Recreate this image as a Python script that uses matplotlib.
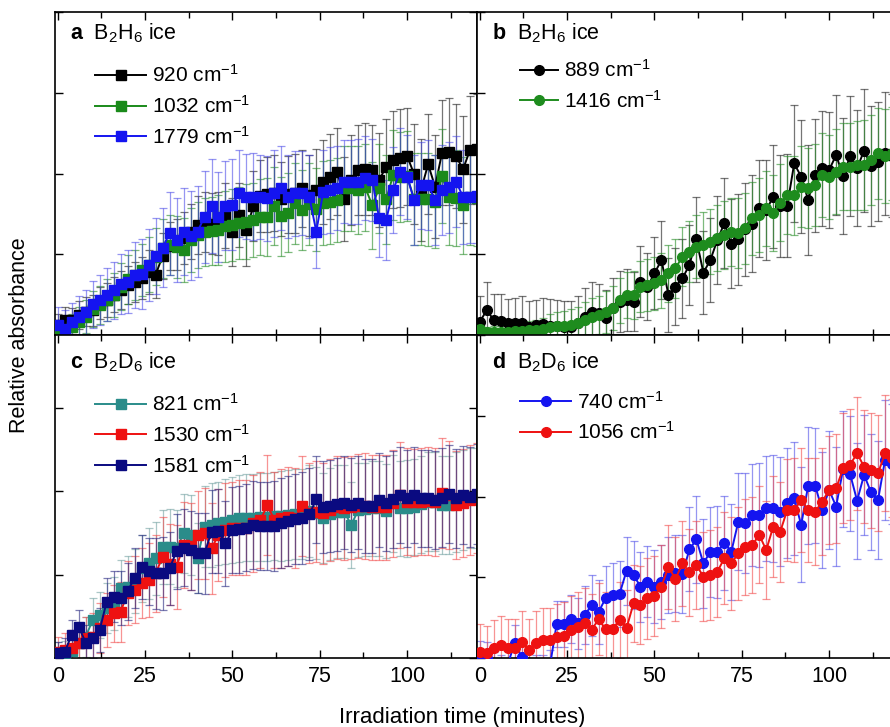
import matplotlib as mpl
import matplotlib.pyplot as plt
from matplotlib.ticker import MultipleLocator, NullFormatter

# Irradiation time grid (minutes)
time_min = list(range(0, 121, 2))

# Panel a: B2H6 ice (squares)
a_920 = [0.030, 0.046, 0.046, 0.062, 0.072, 0.077, 0.098, 0.108, 0.125, 0.140,
         0.155, 0.165, 0.178, 0.196, 0.186, 0.245, 0.275, 0.280, 0.300, 0.320,
         0.340, 0.350, 0.345, 0.345, 0.370, 0.320, 0.372, 0.325, 0.400, 0.430,
         0.435, 0.439, 0.421, 0.435, 0.439, 0.454, 0.433, 0.449, 0.475, 0.490,
         0.506, 0.420, 0.480, 0.511, 0.513, 0.511, 0.480, 0.521, 0.542, 0.549,
         0.554, 0.498, 0.449, 0.529, 0.459, 0.565, 0.568, 0.554, 0.513, 0.573,
         0.575]
a_920_err = [0.035, 0.040, 0.038, 0.042, 0.045, 0.048, 0.050, 0.052, 0.055, 0.058,
             0.060, 0.062, 0.065, 0.068, 0.070, 0.072, 0.075, 0.078, 0.080, 0.085,
             0.090, 0.092, 0.095, 0.098, 0.100, 0.105, 0.100, 0.110, 0.108, 0.112,
             0.115, 0.118, 0.115, 0.120, 0.122, 0.120, 0.125, 0.128, 0.130, 0.132,
             0.135, 0.130, 0.138, 0.140, 0.142, 0.140, 0.145, 0.148, 0.150, 0.152,
             0.150, 0.155, 0.158, 0.155, 0.160, 0.162, 0.165, 0.160, 0.165, 0.168,
             0.170]
a_1032 = [0.005, 0.015, 0.026, 0.041, 0.057, 0.080, 0.093, 0.108, 0.124, 0.150,
          0.172, 0.186, 0.201, 0.217, 0.243, 0.268, 0.279, 0.273, 0.263, 0.294,
          0.310, 0.320, 0.322, 0.325, 0.336, 0.341, 0.346, 0.351, 0.356, 0.366,
          0.366, 0.400, 0.368, 0.379, 0.408, 0.387, 0.406, 0.389, 0.408, 0.413,
          0.418, 0.454, 0.454, 0.449, 0.457, 0.402, 0.454, 0.420, 0.495, 0.490,
          0.492, 0.420, 0.420, 0.420, 0.413, 0.492, 0.428, 0.425, 0.402, 0.428,
          0.425]
a_1032_err = [0.030, 0.035, 0.040, 0.045, 0.050, 0.055, 0.060, 0.065, 0.068, 0.072,
              0.075, 0.078, 0.080, 0.085, 0.088, 0.090, 0.092, 0.095, 0.098, 0.100,
              0.102, 0.105, 0.105, 0.108, 0.110, 0.112, 0.112, 0.115, 0.115, 0.118,
              0.120, 0.120, 0.122, 0.122, 0.125, 0.125, 0.128, 0.128, 0.130, 0.130,
              0.130, 0.132, 0.132, 0.135, 0.135, 0.135, 0.138, 0.138, 0.140, 0.140,
              0.140, 0.142, 0.142, 0.145, 0.145, 0.145, 0.148, 0.148, 0.150, 0.150,
              0.150]
a_1779 = [0.031, 0.020, 0.040, 0.057, 0.070, 0.095, 0.108, 0.124, 0.139, 0.158,
          0.165, 0.186, 0.190, 0.217, 0.245, 0.270, 0.315, 0.294, 0.320, 0.307,
          0.320, 0.366, 0.399, 0.366, 0.400, 0.404, 0.439, 0.428, 0.428, 0.428,
          0.423, 0.439, 0.454, 0.428, 0.439, 0.439, 0.428, 0.320, 0.444, 0.449,
          0.454, 0.475, 0.475, 0.475, 0.485, 0.480, 0.361, 0.356, 0.449, 0.506,
          0.490, 0.418, 0.464, 0.464, 0.418, 0.449, 0.457, 0.475, 0.428, 0.428,
          0.430]
a_1779_err = [0.055, 0.058, 0.060, 0.065, 0.068, 0.072, 0.078, 0.082, 0.088, 0.092,
              0.098, 0.102, 0.108, 0.112, 0.118, 0.122, 0.128, 0.130, 0.135, 0.138,
              0.140, 0.142, 0.145, 0.140, 0.138, 0.140, 0.135, 0.132, 0.135, 0.130,
              0.132, 0.135, 0.130, 0.128, 0.132, 0.130, 0.128, 0.112, 0.130, 0.132,
              0.130, 0.128, 0.130, 0.132, 0.130, 0.128, 0.120, 0.125, 0.132, 0.135,
              0.130, 0.138, 0.135, 0.140, 0.138, 0.140, 0.142, 0.140, 0.145, 0.142,
              0.145]

# Panel b: B2H6 ice (circles)
b_889 = [0.041, 0.077, 0.046, 0.044, 0.036, 0.036, 0.038, 0.024, 0.031, 0.034,
         0.028, 0.028, 0.026, 0.026, 0.036, 0.057, 0.072, 0.067, 0.052, 0.083,
         0.103, 0.108, 0.103, 0.165, 0.150, 0.191, 0.232, 0.124, 0.150, 0.175,
         0.217, 0.296, 0.193, 0.232, 0.294, 0.346, 0.282, 0.296, 0.327, 0.344,
         0.392, 0.387, 0.428, 0.400, 0.400, 0.531, 0.490, 0.418, 0.495, 0.516,
         0.511, 0.557, 0.492, 0.554, 0.516, 0.571, 0.524, 0.537, 0.562, 0.555,
         0.565]
b_889_err = [0.080, 0.088, 0.080, 0.082, 0.075, 0.080, 0.082, 0.080, 0.078, 0.080,
             0.082, 0.080, 0.078, 0.080, 0.085, 0.090, 0.092, 0.090, 0.088, 0.092,
             0.095, 0.095, 0.092, 0.110, 0.105, 0.112, 0.120, 0.115, 0.118, 0.122,
             0.125, 0.132, 0.128, 0.130, 0.135, 0.140, 0.138, 0.140, 0.145, 0.150,
             0.150, 0.155, 0.160, 0.158, 0.160, 0.180, 0.175, 0.170, 0.175, 0.178,
             0.180, 0.185, 0.180, 0.185, 0.180, 0.190, 0.185, 0.185, 0.190, 0.190,
             0.190]
b_1416 = [0.018, 0.010, 0.010, 0.010, 0.010, 0.012, 0.012, 0.015, 0.015, 0.018,
          0.026, 0.028, 0.028, 0.031, 0.036, 0.046, 0.057, 0.062, 0.072, 0.083,
          0.108, 0.124, 0.124, 0.150, 0.155, 0.160, 0.170, 0.191, 0.206, 0.243,
          0.258, 0.273, 0.280, 0.289, 0.299, 0.310, 0.320, 0.315, 0.330, 0.361,
          0.372, 0.392, 0.377, 0.410, 0.433, 0.433, 0.459, 0.455, 0.464, 0.495,
          0.490, 0.506, 0.521, 0.521, 0.526, 0.526, 0.542, 0.562, 0.554, 0.562,
          0.565]
b_1416_err = [0.015, 0.015, 0.018, 0.018, 0.020, 0.022, 0.025, 0.028, 0.030, 0.035,
              0.040, 0.042, 0.045, 0.048, 0.050, 0.055, 0.058, 0.060, 0.065, 0.068,
              0.070, 0.072, 0.075, 0.078, 0.080, 0.082, 0.085, 0.088, 0.090, 0.092,
              0.095, 0.098, 0.100, 0.100, 0.102, 0.105, 0.105, 0.108, 0.110, 0.112,
              0.115, 0.115, 0.118, 0.120, 0.120, 0.122, 0.125, 0.125, 0.128, 0.130,
              0.130, 0.132, 0.135, 0.135, 0.138, 0.140, 0.140, 0.142, 0.145, 0.145,
              0.148]

# Panel c: B2D6 ice (squares)
c_821 = [0.009, 0.005, 0.020, 0.046, 0.064, 0.114, 0.129, 0.150, 0.164, 0.209,
         0.214, 0.230, 0.268, 0.283, 0.298, 0.333, 0.333, 0.328, 0.373, 0.368,
         0.300, 0.393, 0.398, 0.403, 0.408, 0.413, 0.418, 0.420, 0.420, 0.423,
         0.423, 0.425, 0.425, 0.428, 0.430, 0.430, 0.440, 0.435, 0.420, 0.430,
         0.438, 0.438, 0.398, 0.443, 0.445, 0.448, 0.448, 0.440, 0.463, 0.448,
         0.448, 0.452, 0.460, 0.468, 0.468, 0.458, 0.458, 0.468, 0.473, 0.478,
         0.480]
c_821_err = [0.040, 0.045, 0.050, 0.055, 0.060, 0.065, 0.070, 0.075, 0.080, 0.085,
             0.090, 0.095, 0.100, 0.105, 0.108, 0.110, 0.112, 0.115, 0.118, 0.120,
             0.105, 0.122, 0.125, 0.125, 0.128, 0.128, 0.130, 0.130, 0.130, 0.132,
             0.132, 0.132, 0.135, 0.135, 0.135, 0.135, 0.138, 0.138, 0.135, 0.138,
             0.140, 0.140, 0.130, 0.140, 0.140, 0.142, 0.142, 0.142, 0.145, 0.142,
             0.145, 0.145, 0.145, 0.148, 0.148, 0.148, 0.148, 0.150, 0.150, 0.150,
             0.150]
c_1530 = [0.019, 0.024, 0.029, 0.045, 0.059, 0.064, 0.090, 0.114, 0.134, 0.139,
          0.194, 0.204, 0.224, 0.234, 0.253, 0.303, 0.280, 0.273, 0.338, 0.335,
          0.368, 0.373, 0.328, 0.368, 0.383, 0.388, 0.390, 0.390, 0.403, 0.413,
          0.458, 0.413, 0.418, 0.423, 0.420, 0.455, 0.433, 0.438, 0.433, 0.443,
          0.451, 0.448, 0.451, 0.455, 0.455, 0.451, 0.451, 0.451, 0.463, 0.488,
          0.468, 0.466, 0.468, 0.470, 0.468, 0.493, 0.488, 0.458, 0.463, 0.473,
          0.478]
c_1530_err = [0.045, 0.050, 0.055, 0.060, 0.065, 0.070, 0.075, 0.080, 0.085, 0.090,
              0.095, 0.100, 0.105, 0.110, 0.115, 0.120, 0.122, 0.125, 0.128, 0.130,
              0.132, 0.135, 0.135, 0.138, 0.140, 0.140, 0.142, 0.142, 0.145, 0.145,
              0.150, 0.145, 0.148, 0.148, 0.150, 0.150, 0.150, 0.152, 0.152, 0.152,
              0.155, 0.155, 0.155, 0.155, 0.158, 0.158, 0.158, 0.158, 0.160, 0.160,
              0.160, 0.160, 0.160, 0.162, 0.162, 0.165, 0.162, 0.162, 0.162, 0.165,
              0.165]
c_1581 = [0.014, 0.019, 0.069, 0.094, 0.045, 0.060, 0.084, 0.169, 0.184, 0.180,
          0.200, 0.240, 0.273, 0.260, 0.253, 0.253, 0.268, 0.320, 0.330, 0.323,
          0.315, 0.313, 0.378, 0.380, 0.343, 0.383, 0.385, 0.390, 0.398, 0.395,
          0.395, 0.395, 0.405, 0.410, 0.415, 0.420, 0.430, 0.475, 0.452, 0.455,
          0.460, 0.465, 0.458, 0.465, 0.455, 0.455, 0.473, 0.463, 0.475, 0.488,
          0.478, 0.488, 0.478, 0.478, 0.473, 0.480, 0.491, 0.478, 0.488, 0.483,
          0.490]
c_1581_err = [0.035, 0.040, 0.045, 0.050, 0.055, 0.060, 0.065, 0.070, 0.075, 0.080,
              0.085, 0.090, 0.095, 0.100, 0.105, 0.108, 0.110, 0.112, 0.115, 0.118,
              0.120, 0.122, 0.125, 0.125, 0.128, 0.128, 0.130, 0.130, 0.132, 0.132,
              0.132, 0.135, 0.135, 0.135, 0.135, 0.138, 0.138, 0.130, 0.138, 0.138,
              0.140, 0.140, 0.140, 0.140, 0.142, 0.142, 0.142, 0.142, 0.145, 0.145,
              0.145, 0.145, 0.145, 0.145, 0.148, 0.148, 0.148, 0.148, 0.148, 0.150,
              0.150]

# Panel d: B2D6 ice (circles)
d_740 = [0.004, 0.000, -0.030, -0.040, -0.020, 0.047, 0.004, -0.030, -0.040, -0.040,
         -0.030, 0.105, 0.105, 0.120, 0.107, 0.133, 0.163, 0.142, 0.185, 0.195,
         0.198, 0.270, 0.257, 0.221, 0.236, 0.221, 0.236, 0.257, 0.262, 0.260,
         0.336, 0.367, 0.293, 0.329, 0.329, 0.357, 0.329, 0.422, 0.419, 0.443,
         0.443, 0.463, 0.463, 0.453, 0.479, 0.494, 0.412, 0.534, 0.534, 0.458,
         0.520, 0.469, 0.585, 0.570, 0.487, 0.567, 0.513, 0.489, 0.613, 0.600,
         0.610]
d_740_err = [0.050, 0.050, 0.050, 0.050, 0.050, 0.055, 0.050, 0.050, 0.050, 0.050,
             0.055, 0.070, 0.072, 0.075, 0.080, 0.090, 0.095, 0.098, 0.100, 0.100,
             0.102, 0.105, 0.105, 0.108, 0.110, 0.112, 0.115, 0.118, 0.120, 0.122,
             0.130, 0.135, 0.138, 0.140, 0.142, 0.145, 0.148, 0.150, 0.155, 0.158,
             0.160, 0.162, 0.165, 0.168, 0.170, 0.175, 0.178, 0.180, 0.178, 0.180,
             0.182, 0.185, 0.180, 0.178, 0.180, 0.185, 0.180, 0.182, 0.185, 0.185,
             0.185]
d_1056 = [0.020, 0.014, 0.030, 0.040, 0.030, 0.030, 0.050, 0.025, 0.047, 0.056,
          0.056, 0.066, 0.068, 0.087, 0.095, 0.107, 0.087, 0.120, 0.089, 0.089,
          0.118, 0.092, 0.169, 0.164, 0.185, 0.192, 0.221, 0.283, 0.244, 0.293,
          0.265, 0.288, 0.252, 0.257, 0.267, 0.309, 0.293, 0.324, 0.343, 0.350,
          0.381, 0.334, 0.407, 0.391, 0.458, 0.458, 0.489, 0.458, 0.453, 0.484,
          0.520, 0.525, 0.587, 0.598, 0.634, 0.592, 0.582, 0.572, 0.634, 0.620,
          0.630]
d_1056_err = [0.085, 0.085, 0.088, 0.090, 0.090, 0.092, 0.095, 0.095, 0.098, 0.100,
              0.100, 0.102, 0.105, 0.105, 0.108, 0.110, 0.110, 0.112, 0.115, 0.115,
              0.118, 0.120, 0.120, 0.122, 0.125, 0.125, 0.128, 0.130, 0.130, 0.132,
              0.135, 0.135, 0.138, 0.140, 0.140, 0.142, 0.145, 0.145, 0.148, 0.150,
              0.150, 0.152, 0.155, 0.155, 0.158, 0.160, 0.160, 0.162, 0.165, 0.165,
              0.168, 0.170, 0.170, 0.172, 0.175, 0.175, 0.178, 0.180, 0.180, 0.182,
              0.185]

plt.rcParams.update({
    'font.family': 'Liberation Sans',
    'mathtext.fontset': 'custom',
    'mathtext.rm': 'Liberation Sans',
    'mathtext.it': 'Liberation Sans:italic',
    'mathtext.bf': 'Liberation Sans:bold',
    'font.size': 15,
})


def draw_panel(ax, letter, ice, series, marker, ytop=1.0,
               title_y=0.935, leg_x=0.095, leg_y=0.838, handlelength=2.45):
    """Draw one panel: error bars underneath, then marker lines with legend.

    Args:
        series: list of (values, errors, colour, error colour, label), in legend order
    """
    for y, err, color, ecolor, label in series:
        ax.errorbar(time_min, y, yerr=err, fmt='none', ecolor=ecolor,
                    elinewidth=0.9, capsize=3, capthick=0.9, zorder=1)
    lines = []
    for y, err, color, ecolor, label in series:
        ln, = ax.plot(time_min, y, marker=marker, color=color, lw=1.4, ms=7,
                      label=label, zorder=3)
        lines.append(ln)

    ax.set_xlim(-0.8, 120)
    ax.set_ylim(0, ytop)
    ax.xaxis.set_major_locator(MultipleLocator(25))
    ax.xaxis.set_minor_locator(MultipleLocator(12.5))
    ax.yaxis.set_major_locator(MultipleLocator(0.25))
    ax.yaxis.set_major_formatter(NullFormatter())
    ax.tick_params(which='both', direction='in', top=True, right=True, width=1)
    ax.tick_params(which='major', length=6, labelsize=15.5, pad=6)
    ax.tick_params(which='minor', length=4)
    for sp in ax.spines.values():
        sp.set_linewidth(1.2)

    ax.text(0.035, title_y, r'$\mathbf{' + letter + '}$  ' + ice,
            transform=ax.transAxes, fontsize=15.5, va='center', ha='left')
    ax.legend(handles=lines, loc='upper left', bbox_to_anchor=(leg_x, leg_y),
              frameon=False, handlelength=handlelength, handletextpad=0.3,
              labelspacing=0.42, borderpad=0, borderaxespad=0, fontsize=15)


fig = plt.figure(figsize=(8.9, 7.27), dpi=100)

# Panel geometry in pixels; right column runs off the right edge like the source
left, width = 55 / 890, 422 / 890
height = 323 / 727
top_row, bot_row = (727 - 335) / 727, (727 - 658) / 727

ax_a = fig.add_axes([left, top_row, width, height])
ax_b = fig.add_axes([left + width, top_row, width, height])
ax_c = fig.add_axes([left, bot_row, width, height])
ax_d = fig.add_axes([left + width, bot_row, width, height])

draw_panel(ax_a, 'a', r'B$_2$H$_6$ ice', [
    (a_920, a_920_err, '#000000', (0.1, 0.1, 0.1, 0.6), r'920 cm$^{-1}$'),
    (a_1032, a_1032_err, '#1a8a1a', (0.15, 0.55, 0.15, 0.6), r'1032 cm$^{-1}$'),
    (a_1779, a_1779_err, '#1414f0', (0.25, 0.25, 0.9, 0.55), r'1779 cm$^{-1}$'),
], 's')
draw_panel(ax_b, 'b', r'B$_2$H$_6$ ice', [
    (b_889, b_889_err, '#000000', (0.1, 0.1, 0.1, 0.6), r'889 cm$^{-1}$'),
    (b_1416, b_1416_err, '#1e8c1e', (0.15, 0.55, 0.15, 0.6), r'1416 cm$^{-1}$'),
], 'o', leg_x=0.102, leg_y=0.854, handlelength=1.8)
draw_panel(ax_c, 'c', r'B$_2$D$_6$ ice', [
    (c_821, c_821_err, '#2a8c8a', (0.4, 0.6, 0.6, 0.55), r'821 cm$^{-1}$'),
    (c_1530, c_1530_err, '#ee1111', (0.95, 0.3, 0.3, 0.6), r'1530 cm$^{-1}$'),
    (c_1581, c_1581_err, '#0a0a80', (0.15, 0.15, 0.5, 0.6), r'1581 cm$^{-1}$'),
], 's', ytop=323 / 334, title_y=0.915, leg_y=0.82)
draw_panel(ax_d, 'd', r'B$_2$D$_6$ ice', [
    (d_740, d_740_err, '#1414f0', (0.25, 0.25, 0.9, 0.55), r'740 cm$^{-1}$'),
    (d_1056, d_1056_err, '#ee1111', (0.95, 0.3, 0.3, 0.6), r'1056 cm$^{-1}$'),
], 'o', title_y=0.915, leg_x=0.102, leg_y=0.828)

for ax in (ax_a, ax_b):
    ax.xaxis.set_major_formatter(NullFormatter())

fig.text(462 / 890, 1 - 717 / 727, 'Irradiation time (minutes)', ha='center',
         va='center', fontsize=16)
fig.text(20 / 890, 1 - 335 / 727, 'Relative absorbance', ha='center',
         va='center', rotation=90, fontsize=15.5)

plt.savefig('out.png', dpi=100)
